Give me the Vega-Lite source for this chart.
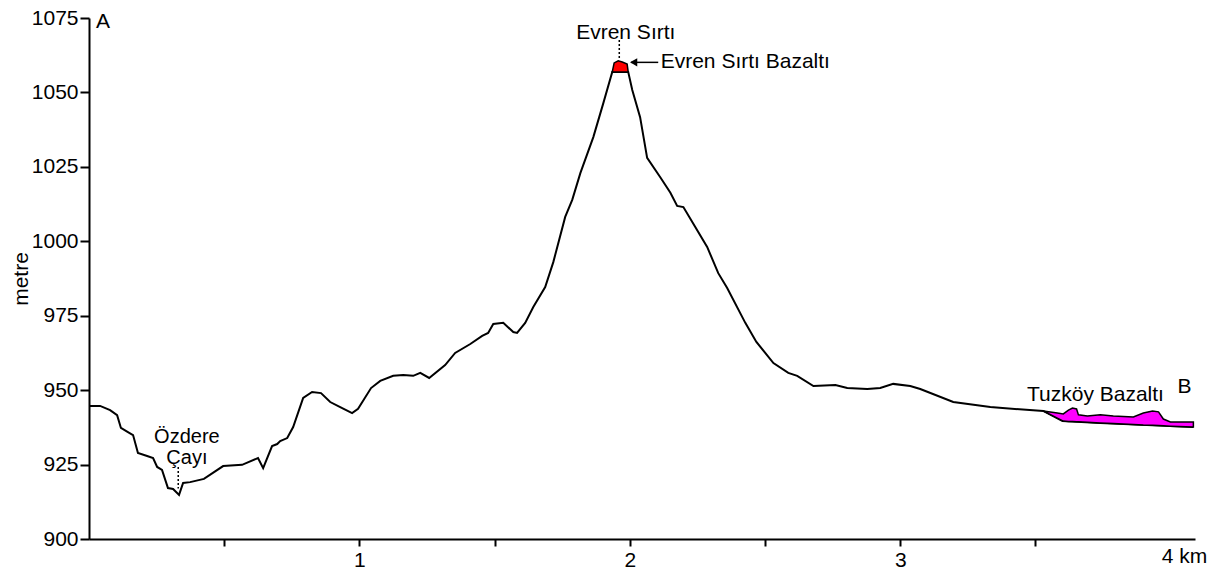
{
  "$schema": "https://vega.github.io/schema/vega-lite/v6.json",
  "autosize": "none",
  "width": 1106,
  "height": 521,
  "padding": {"left": 89, "top": 18, "right": 19, "bottom": 35},
  "background": "white",
  "config": {
    "view": {"stroke": null},
    "font": "Liberation Sans",
    "axis": {
      "grid": false,
      "domainColor": "black",
      "domainWidth": 2,
      "tickColor": "black",
      "tickWidth": 2,
      "labelColor": "black",
      "labelFontSize": 21,
      "labelFont": "Liberation Sans",
      "titleFont": "Liberation Sans",
      "titleColor": "black",
      "titleFontSize": 21,
      "titleFontWeight": "normal",
      "labelFlush": false
    }
  },
  "datasets": {
    "profile": [
      {"km": 0.0, "m": 944.7}, {"km": 0.041, "m": 944.7}, {"km": 0.078, "m": 943.3}, {"km": 0.104, "m": 941.6},
      {"km": 0.118, "m": 937.3}, {"km": 0.144, "m": 935.9}, {"km": 0.163, "m": 934.9}, {"km": 0.181, "m": 928.9},
      {"km": 0.215, "m": 927.9}, {"km": 0.237, "m": 927.2}, {"km": 0.252, "m": 924.2}, {"km": 0.27, "m": 923.2},
      {"km": 0.292, "m": 917.1}, {"km": 0.311, "m": 916.8}, {"km": 0.333, "m": 914.8}, {"km": 0.348, "m": 918.8},
      {"km": 0.374, "m": 919.1}, {"km": 0.425, "m": 920.2}, {"km": 0.496, "m": 924.5}, {"km": 0.566, "m": 924.9},
      {"km": 0.625, "m": 927.2}, {"km": 0.644, "m": 923.8}, {"km": 0.677, "m": 931.2}, {"km": 0.696, "m": 931.9},
      {"km": 0.707, "m": 932.9}, {"km": 0.733, "m": 933.9}, {"km": 0.755, "m": 937.6}, {"km": 0.792, "m": 947.4},
      {"km": 0.825, "m": 949.4}, {"km": 0.858, "m": 949.0}, {"km": 0.892, "m": 946.0}, {"km": 0.929, "m": 944.3},
      {"km": 0.973, "m": 942.3}, {"km": 0.995, "m": 943.7}, {"km": 1.043, "m": 950.7}, {"km": 1.077, "m": 953.1},
      {"km": 1.125, "m": 954.8}, {"km": 1.162, "m": 955.1}, {"km": 1.199, "m": 954.8}, {"km": 1.225, "m": 955.8},
      {"km": 1.258, "m": 954.1}, {"km": 1.317, "m": 958.4}, {"km": 1.354, "m": 962.5}, {"km": 1.41, "m": 965.5},
      {"km": 1.454, "m": 968.2}, {"km": 1.476, "m": 969.2}, {"km": 1.495, "m": 972.2}, {"km": 1.532, "m": 972.6},
      {"km": 1.569, "m": 969.5}, {"km": 1.583, "m": 969.2}, {"km": 1.613, "m": 972.6}, {"km": 1.643, "m": 977.9},
      {"km": 1.687, "m": 984.6}, {"km": 1.717, "m": 993.0}, {"km": 1.761, "m": 1008.2}, {"km": 1.787, "m": 1013.9},
      {"km": 1.817, "m": 1022.9}, {"km": 1.865, "m": 1035.0}, {"km": 1.902, "m": 1046.4}, {"km": 1.935, "m": 1056.9},
      {"km": 1.994, "m": 1056.9}, {"km": 2.009, "m": 1050.8}, {"km": 2.038, "m": 1041.7}, {"km": 2.064, "m": 1028.0},
      {"km": 2.112, "m": 1021.6}, {"km": 2.15, "m": 1016.3}, {"km": 2.175, "m": 1011.9}, {"km": 2.198, "m": 1011.5},
      {"km": 2.242, "m": 1004.8}, {"km": 2.286, "m": 998.1}, {"km": 2.327, "m": 989.3}, {"km": 2.36, "m": 984.3},
      {"km": 2.427, "m": 972.6}, {"km": 2.468, "m": 966.2}, {"km": 2.531, "m": 959.1}, {"km": 2.586, "m": 955.8},
      {"km": 2.619, "m": 954.8}, {"km": 2.679, "m": 951.4}, {"km": 2.76, "m": 951.7}, {"km": 2.804, "m": 950.7},
      {"km": 2.878, "m": 950.4}, {"km": 2.926, "m": 950.7}, {"km": 2.974, "m": 952.1}, {"km": 3.037, "m": 951.4},
      {"km": 3.074, "m": 950.4}, {"km": 3.196, "m": 946.0}, {"km": 3.333, "m": 944.3}, {"km": 3.529, "m": 943.0},
      {"km": 3.6, "m": 939.6}, {"km": 3.74, "m": 939.0}, {"km": 4.084, "m": 937.6}
    ],
    "basalt": [
      {"km": 3.529, "m": 943.0, "m2": 943.0}, {"km": 3.581, "m": 942.3, "m2": 940.6}, {"km": 3.603, "m": 942.0, "m2": 939.6},
      {"km": 3.622, "m": 943.3, "m2": 939.5}, {"km": 3.637, "m": 944.0, "m2": 939.5}, {"km": 3.652, "m": 943.7, "m2": 939.4},
      {"km": 3.659, "m": 941.7, "m2": 939.4}, {"km": 3.692, "m": 941.3, "m2": 939.2}, {"km": 3.74, "m": 941.7, "m2": 939.0},
      {"km": 3.788, "m": 941.3, "m2": 938.8}, {"km": 3.862, "m": 941.0, "m2": 938.5}, {"km": 3.899, "m": 942.3, "m2": 938.3},
      {"km": 3.933, "m": 943.0, "m2": 938.2}, {"km": 3.955, "m": 942.7, "m2": 938.1}, {"km": 3.973, "m": 940.3, "m2": 938.0},
      {"km": 3.999, "m": 939.3, "m2": 937.9}, {"km": 4.084, "m": 939.3, "m2": 937.6}
    ],
    "cap": [
      {"km": 1.935, "m": 1056.9, "m2": 1056.9}, {"km": 1.942, "m": 1059.9, "m2": 1056.9}, {"km": 1.957, "m": 1060.6, "m2": 1056.9},
      {"km": 1.972, "m": 1060.2, "m2": 1056.9}, {"km": 1.99, "m": 1059.5, "m2": 1056.9}, {"km": 1.994, "m": 1056.9, "m2": 1056.9}
    ],
    "leaders": [
      {"km": 1.961, "m": 1067.6, "m2": 1061.0},
      {"km": 0.33, "m": 924.2, "m2": 917.0}
    ],
    "arrow": [{"km": 2.005, "km2": 2.105, "m": 1060.1}],
    "arrowhead": [{"km": 2.014, "m": 1060.1}],
    "labels": [
      {"km": 0.052, "m": 1071.6, "text": "A"},
      {"km": 4.051, "m": 949.0, "text": "B"},
      {"km": 1.985, "m": 1067.8, "text": "Evren Sırtı"},
      {"km": 2.427, "m": 1058.1, "text": "Evren Sırtı Bazaltı"},
      {"km": 3.722, "m": 946.4, "text": "Tuzköy Bazaltı"},
      {"km": 4.051, "m": 891.8, "text": "4 km"}
    ],
    "river": [
      {"km": 0.362, "m": 932.3, "text": "Özdere\nÇayı"}
    ]
  },
  "layer": [
    {
      "data": {"name": "profile"},
      "mark": {"type": "line", "color": "black", "strokeWidth": 2},
      "encoding": {
        "x": {
          "field": "km", "type": "quantitative",
          "scale": {"domain": [0, 4.09], "nice": false, "zero": false},
          "axis": {
            "title": null,
            "values": [0.5, 1, 1.5, 2, 2.5, 3, 3.5],
            "labelExpr": "datum.value % 1 === 0 ? format(datum.value, 'd') : ''",
            "tickSize": 7,
            "labelPadding": 3
          }
        },
        "y": {
          "field": "m", "type": "quantitative",
          "scale": {"domain": [900, 1075], "nice": false, "zero": false},
          "axis": {
            "title": "metre",
            "format": "d",
            "values": [900, 925, 950, 975, 1000, 1025, 1050, 1075],
            "tickSize": 9,
            "labelPadding": 2,
            "titlePadding": 0
          }
        }
      }
    },
    {
      "data": {"name": "basalt"},
      "mark": {"type": "area", "fill": "#ff00ff", "stroke": "black", "strokeWidth": 1.5, "fillOpacity": 1},
      "encoding": {
        "x": {"field": "km", "type": "quantitative"},
        "y": {"field": "m", "type": "quantitative"},
        "y2": {"field": "m2"}
      }
    },
    {
      "data": {"name": "cap"},
      "mark": {"type": "area", "fill": "#ff0000", "stroke": "black", "strokeWidth": 1.5, "fillOpacity": 1},
      "encoding": {
        "x": {"field": "km", "type": "quantitative"},
        "y": {"field": "m", "type": "quantitative"},
        "y2": {"field": "m2"}
      }
    },
    {
      "data": {"name": "leaders"},
      "mark": {"type": "rule", "color": "black", "strokeWidth": 1.5, "strokeDash": [2, 2]},
      "encoding": {
        "x": {"field": "km", "type": "quantitative"},
        "y": {"field": "m", "type": "quantitative"},
        "y2": {"field": "m2"}
      }
    },
    {
      "data": {"name": "arrow"},
      "mark": {"type": "rule", "color": "black", "strokeWidth": 1.5},
      "encoding": {
        "x": {"field": "km", "type": "quantitative"},
        "x2": {"field": "km2"},
        "y": {"field": "m", "type": "quantitative"}
      }
    },
    {
      "data": {"name": "arrowhead"},
      "mark": {"type": "point", "shape": "triangle-left", "filled": true, "color": "black", "size": 70, "opacity": 1},
      "encoding": {
        "x": {"field": "km", "type": "quantitative"},
        "y": {"field": "m", "type": "quantitative"}
      }
    },
    {
      "data": {"name": "labels"},
      "mark": {"type": "text", "fontSize": 21, "font": "Liberation Sans", "color": "black", "align": "center", "baseline": "alphabetic"},
      "encoding": {
        "x": {"field": "km", "type": "quantitative"},
        "y": {"field": "m", "type": "quantitative"},
        "text": {"field": "text"}
      }
    },
    {
      "data": {"name": "river"},
      "mark": {"type": "text", "fontSize": 20, "font": "Liberation Sans", "color": "black", "align": "center", "baseline": "alphabetic", "lineBreak": "\n", "lineHeight": 21},
      "encoding": {
        "x": {"field": "km", "type": "quantitative"},
        "y": {"field": "m", "type": "quantitative"},
        "text": {"field": "text"}
      }
    }
  ]
}
